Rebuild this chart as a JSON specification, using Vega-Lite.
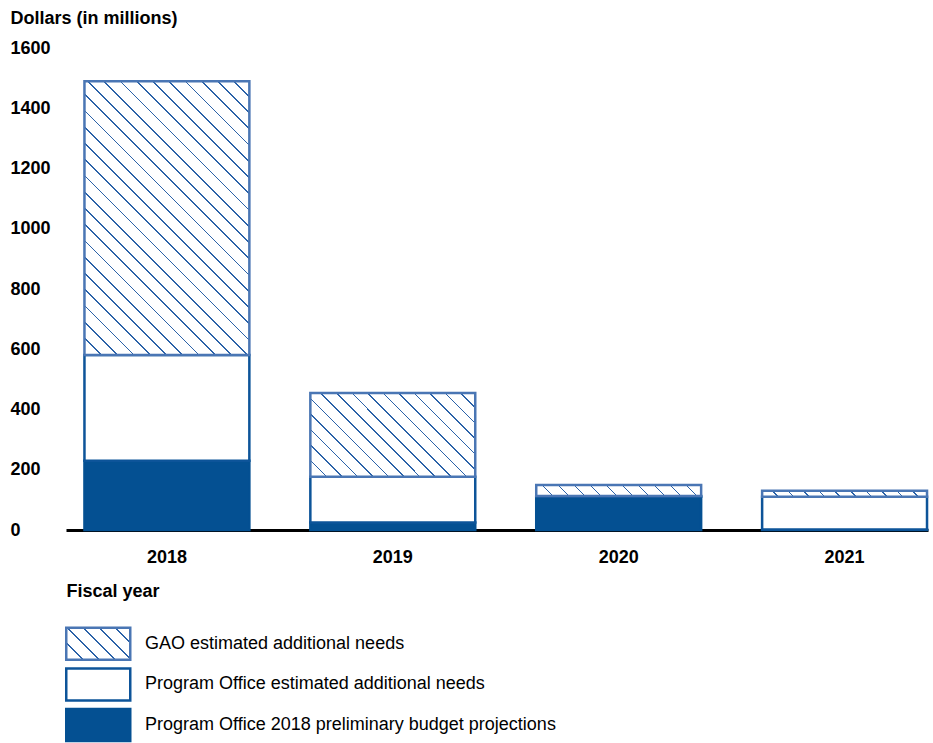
{
  "$schema": "https://vega.github.io/schema/vega-lite/v6.json",
  "width": 862,
  "height": 482,
  "autosize": {"type": "none"},
  "padding": {"left": 66, "top": 48, "right": 5, "bottom": 213},
  "background": "white",
  "config": {
    "view": {"stroke": null},
    "font": "Liberation Sans",
    "axis": {"grid": false, "ticks": false, "tickSize": 0, "labelColor": "black", "titleColor": "black"}
  },
  "data": {
    "values": [
      {"year": "2018", "series": "Program Office 2018 preliminary budget projections", "order": 1, "value": 230},
      {"year": "2018", "series": "Program Office estimated additional needs", "order": 2, "value": 351},
      {"year": "2018", "series": "GAO estimated additional needs", "order": 3, "value": 909},
      {"year": "2019", "series": "Program Office 2018 preliminary budget projections", "order": 1, "value": 25},
      {"year": "2019", "series": "Program Office estimated additional needs", "order": 2, "value": 152},
      {"year": "2019", "series": "GAO estimated additional needs", "order": 3, "value": 278},
      {"year": "2020", "series": "Program Office 2018 preliminary budget projections", "order": 1, "value": 110},
      {"year": "2020", "series": "Program Office estimated additional needs", "order": 2, "value": 3},
      {"year": "2020", "series": "GAO estimated additional needs", "order": 3, "value": 36},
      {"year": "2021", "series": "Program Office 2018 preliminary budget projections", "order": 1, "value": 2},
      {"year": "2021", "series": "Program Office estimated additional needs", "order": 2, "value": 108},
      {"year": "2021", "series": "GAO estimated additional needs", "order": 3, "value": 20}
    ]
  },
  "transform": [
    {"stack": "value", "groupby": ["year"], "sort": [{"field": "order", "order": "ascending"}], "as": ["v0", "v1"]}
  ],
  "encoding": {
    "x": {
      "field": "year", "type": "nominal",
      "scale": {"paddingInner": 0.27, "paddingOuter": 0.043, "align": 0.95},
      "axis": {
        "labelAngle": 0, "labelFontSize": 18, "labelFontWeight": "bold", "labelBaseline": "alphabetic", "labelPadding": 32,
        "domainColor": "black", "domainWidth": 3,
        "title": "Fiscal year", "titleFontSize": 18, "titleFontWeight": "bold",
        "titleX": 0, "titleY": 66, "titleAlign": "left", "titleBaseline": "alphabetic"
      }
    },
    "y": {
      "field": "v0", "type": "quantitative",
      "scale": {"domain": [0, 1600], "nice": false},
      "axis": {
        "values": [0, 200, 400, 600, 800, 1000, 1200, 1400, 1600], "format": "d",
        "domain": false, "labelAlign": "left", "labelPadding": 56, "labelFontSize": 18, "labelFontWeight": "bold", "labelBaseline": "middle",
        "title": "Dollars (in millions)", "titleFontSize": 18, "titleFontWeight": "bold", "titleAngle": 0,
        "titleX": -56, "titleY": -24.7, "titleAlign": "left", "titleBaseline": "alphabetic"
      }
    },
    "y2": {"field": "v1"}
  },
  "layer": [
    {
      "transform": [{"filter": "datum.series !== 'GAO estimated additional needs'"}],
      "mark": {"type": "bar", "strokeWidth": 2.5},
      "encoding": {
        "fill": {
          "field": "series", "type": "nominal",
          "scale": {
            "domain": ["GAO estimated additional needs", "Program Office estimated additional needs", "Program Office 2018 preliminary budget projections"],
            "range": [
              {"expr": "{gradient: 'linear', x1: 0, y1: 1, x2: 1.2, y2: 0.4, stops: [{offset: 0, color: '#fff'}, {offset: 0, color: '#2b62a8'}, {offset: 0.0167, color: '#2b62a8'}, {offset: 0.0167, color: '#fff'}, {offset: 0.1667, color: '#fff'}, {offset: 0.1667, color: '#2b62a8'}, {offset: 0.1833, color: '#2b62a8'}, {offset: 0.1833, color: '#fff'}, {offset: 0.3333, color: '#fff'}, {offset: 0.3333, color: '#2b62a8'}, {offset: 0.35, color: '#2b62a8'}, {offset: 0.35, color: '#fff'}, {offset: 0.5, color: '#fff'}, {offset: 0.5, color: '#2b62a8'}, {offset: 0.5167, color: '#2b62a8'}, {offset: 0.5167, color: '#fff'}, {offset: 0.6667, color: '#fff'}, {offset: 0.6667, color: '#2b62a8'}, {offset: 0.6833, color: '#2b62a8'}, {offset: 0.6833, color: '#fff'}, {offset: 0.8333, color: '#fff'}, {offset: 0.8333, color: '#2b62a8'}, {offset: 0.85, color: '#2b62a8'}, {offset: 0.85, color: '#fff'}, {offset: 1, color: '#fff'}]}"},
              "#ffffff",
              "#045092"
            ]
          },
          "legend": {
            "title": null, "orient": "none", "legendX": 14.75, "legendY": 578.2, "padding": 0,
            "symbolType": "M-2,-1H2V1H-2Z", "symbolSize": 1024, "symbolStrokeWidth": 2.5, "symbolOpacity": 1,
            "rowPadding": -2.3, "labelOffset": 29.25, "labelFontSize": 18, "labelColor": "black", "labelLimit": 600
          }
        },
        "stroke": {
          "field": "series", "type": "nominal",
          "scale": {
            "domain": ["GAO estimated additional needs", "Program Office estimated additional needs", "Program Office 2018 preliminary budget projections"],
            "range": ["#4a76b4", "#0d5499", "#045092"]
          },
          "legend": {
            "title": null, "orient": "none", "legendX": 14.75, "legendY": 578.2, "padding": 0,
            "symbolType": "M-2,-1H2V1H-2Z", "symbolSize": 1024, "symbolStrokeWidth": 2.5, "symbolOpacity": 1,
            "rowPadding": -2.3, "labelOffset": 29.25, "labelFontSize": 18, "labelColor": "black", "labelLimit": 600
          }
        }
      }
    },
    {
      "transform": [{"filter": "datum.series === 'GAO estimated additional needs' && datum.year === '2018'"}],
      "mark": {
        "type": "bar", "stroke": "#4a76b4", "strokeWidth": 2.5,
        "fill": {
          "gradient": "linear", "x1": 0, "y1": 1, "x2": 0.7081, "y2": -0.1757,
          "stops": [
            {"offset": 0, "color": "#fff"}, {"offset": 0, "color": "#2b62a8"}, {"offset": 0.0037, "color": "#2b62a8"}, {"offset": 0.0037, "color": "#fff"},
            {"offset": 0.037, "color": "#fff"}, {"offset": 0.037, "color": "#2b62a8"}, {"offset": 0.0407, "color": "#2b62a8"}, {"offset": 0.0407, "color": "#fff"},
            {"offset": 0.0741, "color": "#fff"}, {"offset": 0.0741, "color": "#2b62a8"}, {"offset": 0.0778, "color": "#2b62a8"}, {"offset": 0.0778, "color": "#fff"},
            {"offset": 0.1111, "color": "#fff"}, {"offset": 0.1111, "color": "#2b62a8"}, {"offset": 0.1148, "color": "#2b62a8"}, {"offset": 0.1148, "color": "#fff"},
            {"offset": 0.1481, "color": "#fff"}, {"offset": 0.1481, "color": "#2b62a8"}, {"offset": 0.1519, "color": "#2b62a8"}, {"offset": 0.1519, "color": "#fff"},
            {"offset": 0.1852, "color": "#fff"}, {"offset": 0.1852, "color": "#2b62a8"}, {"offset": 0.1889, "color": "#2b62a8"}, {"offset": 0.1889, "color": "#fff"},
            {"offset": 0.2222, "color": "#fff"}, {"offset": 0.2222, "color": "#2b62a8"}, {"offset": 0.2259, "color": "#2b62a8"}, {"offset": 0.2259, "color": "#fff"},
            {"offset": 0.2593, "color": "#fff"}, {"offset": 0.2593, "color": "#2b62a8"}, {"offset": 0.263, "color": "#2b62a8"}, {"offset": 0.263, "color": "#fff"},
            {"offset": 0.2963, "color": "#fff"}, {"offset": 0.2963, "color": "#2b62a8"}, {"offset": 0.3, "color": "#2b62a8"}, {"offset": 0.3, "color": "#fff"},
            {"offset": 0.3333, "color": "#fff"}, {"offset": 0.3333, "color": "#2b62a8"}, {"offset": 0.337, "color": "#2b62a8"}, {"offset": 0.337, "color": "#fff"},
            {"offset": 0.3704, "color": "#fff"}, {"offset": 0.3704, "color": "#2b62a8"}, {"offset": 0.3741, "color": "#2b62a8"}, {"offset": 0.3741, "color": "#fff"},
            {"offset": 0.4074, "color": "#fff"}, {"offset": 0.4074, "color": "#2b62a8"}, {"offset": 0.4111, "color": "#2b62a8"}, {"offset": 0.4111, "color": "#fff"},
            {"offset": 0.4444, "color": "#fff"}, {"offset": 0.4444, "color": "#2b62a8"}, {"offset": 0.4481, "color": "#2b62a8"}, {"offset": 0.4481, "color": "#fff"},
            {"offset": 0.4815, "color": "#fff"}, {"offset": 0.4815, "color": "#2b62a8"}, {"offset": 0.4852, "color": "#2b62a8"}, {"offset": 0.4852, "color": "#fff"},
            {"offset": 0.5185, "color": "#fff"}, {"offset": 0.5185, "color": "#2b62a8"}, {"offset": 0.5222, "color": "#2b62a8"}, {"offset": 0.5222, "color": "#fff"},
            {"offset": 0.5556, "color": "#fff"}, {"offset": 0.5556, "color": "#2b62a8"}, {"offset": 0.5593, "color": "#2b62a8"}, {"offset": 0.5593, "color": "#fff"},
            {"offset": 0.5926, "color": "#fff"}, {"offset": 0.5926, "color": "#2b62a8"}, {"offset": 0.5963, "color": "#2b62a8"}, {"offset": 0.5963, "color": "#fff"},
            {"offset": 0.6296, "color": "#fff"}, {"offset": 0.6296, "color": "#2b62a8"}, {"offset": 0.6333, "color": "#2b62a8"}, {"offset": 0.6333, "color": "#fff"},
            {"offset": 0.6667, "color": "#fff"}, {"offset": 0.6667, "color": "#2b62a8"}, {"offset": 0.6704, "color": "#2b62a8"}, {"offset": 0.6704, "color": "#fff"},
            {"offset": 0.7037, "color": "#fff"}, {"offset": 0.7037, "color": "#2b62a8"}, {"offset": 0.7074, "color": "#2b62a8"}, {"offset": 0.7074, "color": "#fff"},
            {"offset": 0.7407, "color": "#fff"}, {"offset": 0.7407, "color": "#2b62a8"}, {"offset": 0.7444, "color": "#2b62a8"}, {"offset": 0.7444, "color": "#fff"},
            {"offset": 0.7778, "color": "#fff"}, {"offset": 0.7778, "color": "#2b62a8"}, {"offset": 0.7815, "color": "#2b62a8"}, {"offset": 0.7815, "color": "#fff"},
            {"offset": 0.8148, "color": "#fff"}, {"offset": 0.8148, "color": "#2b62a8"}, {"offset": 0.8185, "color": "#2b62a8"}, {"offset": 0.8185, "color": "#fff"},
            {"offset": 0.8519, "color": "#fff"}, {"offset": 0.8519, "color": "#2b62a8"}, {"offset": 0.8556, "color": "#2b62a8"}, {"offset": 0.8556, "color": "#fff"},
            {"offset": 0.8889, "color": "#fff"}, {"offset": 0.8889, "color": "#2b62a8"}, {"offset": 0.8926, "color": "#2b62a8"}, {"offset": 0.8926, "color": "#fff"},
            {"offset": 0.9259, "color": "#fff"}, {"offset": 0.9259, "color": "#2b62a8"}, {"offset": 0.9296, "color": "#2b62a8"}, {"offset": 0.9296, "color": "#fff"},
            {"offset": 0.963, "color": "#fff"}, {"offset": 0.963, "color": "#2b62a8"}, {"offset": 0.9667, "color": "#2b62a8"}, {"offset": 0.9667, "color": "#fff"},
            {"offset": 1, "color": "#fff"}
          ]
        }
      }
    },
    {
      "transform": [{"filter": "datum.series === 'GAO estimated additional needs' && datum.year === '2019'"}],
      "mark": {
        "type": "bar", "stroke": "#4a76b4", "strokeWidth": 2.5,
        "fill": {
          "gradient": "linear", "x1": 0, "y1": 1, "x2": 1.1987, "y2": 0.3915,
          "stops": [
            {"offset": 0, "color": "#fff"}, {"offset": 0, "color": "#2b62a8"}, {"offset": 0.0063, "color": "#2b62a8"}, {"offset": 0.0063, "color": "#fff"},
            {"offset": 0.0625, "color": "#fff"}, {"offset": 0.0625, "color": "#2b62a8"}, {"offset": 0.0688, "color": "#2b62a8"}, {"offset": 0.0688, "color": "#fff"},
            {"offset": 0.125, "color": "#fff"}, {"offset": 0.125, "color": "#2b62a8"}, {"offset": 0.1313, "color": "#2b62a8"}, {"offset": 0.1313, "color": "#fff"},
            {"offset": 0.1875, "color": "#fff"}, {"offset": 0.1875, "color": "#2b62a8"}, {"offset": 0.1938, "color": "#2b62a8"}, {"offset": 0.1938, "color": "#fff"},
            {"offset": 0.25, "color": "#fff"}, {"offset": 0.25, "color": "#2b62a8"}, {"offset": 0.2563, "color": "#2b62a8"}, {"offset": 0.2563, "color": "#fff"},
            {"offset": 0.3125, "color": "#fff"}, {"offset": 0.3125, "color": "#2b62a8"}, {"offset": 0.3188, "color": "#2b62a8"}, {"offset": 0.3188, "color": "#fff"},
            {"offset": 0.375, "color": "#fff"}, {"offset": 0.375, "color": "#2b62a8"}, {"offset": 0.3813, "color": "#2b62a8"}, {"offset": 0.3813, "color": "#fff"},
            {"offset": 0.4375, "color": "#fff"}, {"offset": 0.4375, "color": "#2b62a8"}, {"offset": 0.4438, "color": "#2b62a8"}, {"offset": 0.4438, "color": "#fff"},
            {"offset": 0.5, "color": "#fff"}, {"offset": 0.5, "color": "#2b62a8"}, {"offset": 0.5063, "color": "#2b62a8"}, {"offset": 0.5063, "color": "#fff"},
            {"offset": 0.5625, "color": "#fff"}, {"offset": 0.5625, "color": "#2b62a8"}, {"offset": 0.5688, "color": "#2b62a8"}, {"offset": 0.5688, "color": "#fff"},
            {"offset": 0.625, "color": "#fff"}, {"offset": 0.625, "color": "#2b62a8"}, {"offset": 0.6313, "color": "#2b62a8"}, {"offset": 0.6313, "color": "#fff"},
            {"offset": 0.6875, "color": "#fff"}, {"offset": 0.6875, "color": "#2b62a8"}, {"offset": 0.6938, "color": "#2b62a8"}, {"offset": 0.6938, "color": "#fff"},
            {"offset": 0.75, "color": "#fff"}, {"offset": 0.75, "color": "#2b62a8"}, {"offset": 0.7563, "color": "#2b62a8"}, {"offset": 0.7563, "color": "#fff"},
            {"offset": 0.8125, "color": "#fff"}, {"offset": 0.8125, "color": "#2b62a8"}, {"offset": 0.8188, "color": "#2b62a8"}, {"offset": 0.8188, "color": "#fff"},
            {"offset": 0.875, "color": "#fff"}, {"offset": 0.875, "color": "#2b62a8"}, {"offset": 0.8813, "color": "#2b62a8"}, {"offset": 0.8813, "color": "#fff"},
            {"offset": 0.9375, "color": "#fff"}, {"offset": 0.9375, "color": "#2b62a8"}, {"offset": 0.9438, "color": "#2b62a8"}, {"offset": 0.9438, "color": "#fff"},
            {"offset": 1, "color": "#fff"}
          ]
        }
      }
    },
    {
      "transform": [{"filter": "datum.series === 'GAO estimated additional needs' && datum.year === '2020'"}],
      "mark": {
        "type": "bar", "stroke": "#4a76b4", "strokeWidth": 2.5,
        "fill": {
          "gradient": "linear", "x1": 0, "y1": 1, "x2": 1.0612, "y2": 0.9302,
          "stops": [
            {"offset": 0, "color": "#fff"}, {"offset": 0, "color": "#2b62a8"}, {"offset": 0.0091, "color": "#2b62a8"}, {"offset": 0.0091, "color": "#fff"},
            {"offset": 0.0909, "color": "#fff"}, {"offset": 0.0909, "color": "#2b62a8"}, {"offset": 0.1, "color": "#2b62a8"}, {"offset": 0.1, "color": "#fff"},
            {"offset": 0.1818, "color": "#fff"}, {"offset": 0.1818, "color": "#2b62a8"}, {"offset": 0.1909, "color": "#2b62a8"}, {"offset": 0.1909, "color": "#fff"},
            {"offset": 0.2727, "color": "#fff"}, {"offset": 0.2727, "color": "#2b62a8"}, {"offset": 0.2818, "color": "#2b62a8"}, {"offset": 0.2818, "color": "#fff"},
            {"offset": 0.3636, "color": "#fff"}, {"offset": 0.3636, "color": "#2b62a8"}, {"offset": 0.3727, "color": "#2b62a8"}, {"offset": 0.3727, "color": "#fff"},
            {"offset": 0.4545, "color": "#fff"}, {"offset": 0.4545, "color": "#2b62a8"}, {"offset": 0.4636, "color": "#2b62a8"}, {"offset": 0.4636, "color": "#fff"},
            {"offset": 0.5455, "color": "#fff"}, {"offset": 0.5455, "color": "#2b62a8"}, {"offset": 0.5545, "color": "#2b62a8"}, {"offset": 0.5545, "color": "#fff"},
            {"offset": 0.6364, "color": "#fff"}, {"offset": 0.6364, "color": "#2b62a8"}, {"offset": 0.6455, "color": "#2b62a8"}, {"offset": 0.6455, "color": "#fff"},
            {"offset": 0.7273, "color": "#fff"}, {"offset": 0.7273, "color": "#2b62a8"}, {"offset": 0.7364, "color": "#2b62a8"}, {"offset": 0.7364, "color": "#fff"},
            {"offset": 0.8182, "color": "#fff"}, {"offset": 0.8182, "color": "#2b62a8"}, {"offset": 0.8273, "color": "#2b62a8"}, {"offset": 0.8273, "color": "#fff"},
            {"offset": 0.9091, "color": "#fff"}, {"offset": 0.9091, "color": "#2b62a8"}, {"offset": 0.9182, "color": "#2b62a8"}, {"offset": 0.9182, "color": "#fff"},
            {"offset": 1, "color": "#fff"}
          ]
        }
      }
    },
    {
      "transform": [{"filter": "datum.series === 'GAO estimated additional needs' && datum.year === '2021'"}],
      "mark": {
        "type": "bar", "stroke": "#4a76b4", "strokeWidth": 2.5,
        "fill": {
          "gradient": "linear", "x1": 0, "y1": 1, "x2": 1.0352, "y2": 0.9621,
          "stops": [
            {"offset": 0, "color": "#fff"}, {"offset": 0, "color": "#2b62a8"}, {"offset": 0.0091, "color": "#2b62a8"}, {"offset": 0.0091, "color": "#fff"},
            {"offset": 0.0909, "color": "#fff"}, {"offset": 0.0909, "color": "#2b62a8"}, {"offset": 0.1, "color": "#2b62a8"}, {"offset": 0.1, "color": "#fff"},
            {"offset": 0.1818, "color": "#fff"}, {"offset": 0.1818, "color": "#2b62a8"}, {"offset": 0.1909, "color": "#2b62a8"}, {"offset": 0.1909, "color": "#fff"},
            {"offset": 0.2727, "color": "#fff"}, {"offset": 0.2727, "color": "#2b62a8"}, {"offset": 0.2818, "color": "#2b62a8"}, {"offset": 0.2818, "color": "#fff"},
            {"offset": 0.3636, "color": "#fff"}, {"offset": 0.3636, "color": "#2b62a8"}, {"offset": 0.3727, "color": "#2b62a8"}, {"offset": 0.3727, "color": "#fff"},
            {"offset": 0.4545, "color": "#fff"}, {"offset": 0.4545, "color": "#2b62a8"}, {"offset": 0.4636, "color": "#2b62a8"}, {"offset": 0.4636, "color": "#fff"},
            {"offset": 0.5455, "color": "#fff"}, {"offset": 0.5455, "color": "#2b62a8"}, {"offset": 0.5545, "color": "#2b62a8"}, {"offset": 0.5545, "color": "#fff"},
            {"offset": 0.6364, "color": "#fff"}, {"offset": 0.6364, "color": "#2b62a8"}, {"offset": 0.6455, "color": "#2b62a8"}, {"offset": 0.6455, "color": "#fff"},
            {"offset": 0.7273, "color": "#fff"}, {"offset": 0.7273, "color": "#2b62a8"}, {"offset": 0.7364, "color": "#2b62a8"}, {"offset": 0.7364, "color": "#fff"},
            {"offset": 0.8182, "color": "#fff"}, {"offset": 0.8182, "color": "#2b62a8"}, {"offset": 0.8273, "color": "#2b62a8"}, {"offset": 0.8273, "color": "#fff"},
            {"offset": 0.9091, "color": "#fff"}, {"offset": 0.9091, "color": "#2b62a8"}, {"offset": 0.9182, "color": "#2b62a8"}, {"offset": 0.9182, "color": "#fff"},
            {"offset": 1, "color": "#fff"}
          ]
        }
      }
    }
  ]
}
